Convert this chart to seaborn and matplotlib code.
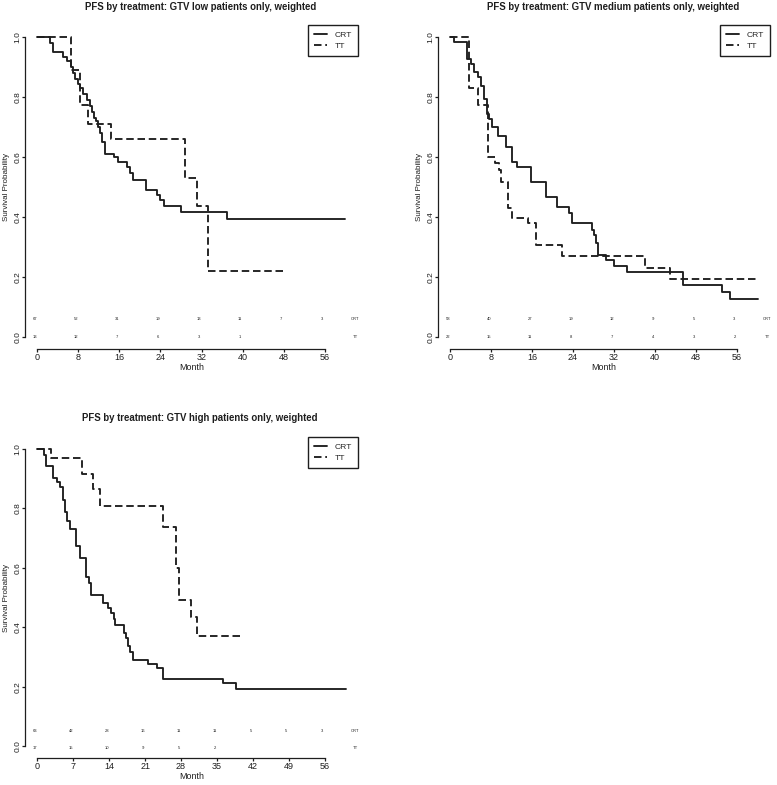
import pandas as pd
import seaborn as sns
import matplotlib.pyplot as plt

# ─── Data (Kaplan-Meier steps) ────────────────────────────────────────────────
LOW_CRT_T = [0, 2.5, 3.05, 5.0, 5.8, 6.5, 7.0, 7.4, 7.9, 8.4, 9.0, 9.6, 10.2, 10.6, 11.0,
             11.4, 11.9, 12.3, 12.7, 13.1, 14.85, 15.8, 17.45, 18.1, 18.7, 21.2, 23.3,
             23.9, 24.6, 28.1, 36.9, 60.0]
LOW_CRT_S = [1.0, 0.981, 0.95, 0.935, 0.92, 0.90, 0.88, 0.86, 0.845, 0.83, 0.81, 0.79,
             0.77, 0.75, 0.73, 0.72, 0.70, 0.68, 0.65, 0.61, 0.60, 0.584, 0.568, 0.546,
             0.523, 0.49, 0.473, 0.457, 0.437, 0.416, 0.393, 0.393]
LOW_TT_T = [0, 6.6, 8.37, 9.8, 14.3, 28.7, 31.06, 33.3, 48.0]
LOW_TT_S = [1.0, 0.89, 0.773, 0.71, 0.659, 0.529, 0.437, 0.221, 0.221]

MED_CRT_T = [0, 0.65, 3.25, 4.03, 4.68, 5.46, 5.98, 6.5, 7.15, 7.6, 8.07, 9.36, 10.86,
             12.16, 13.0, 15.73, 18.65, 20.9, 23.2, 23.8, 27.76, 28.1, 28.4, 28.9, 30.5,
             32.1, 34.6, 45.5, 53.1, 54.7, 60.1]
MED_CRT_S = [1.0, 0.984, 0.926, 0.91, 0.884, 0.866, 0.837, 0.792, 0.744, 0.728, 0.70,
             0.67, 0.634, 0.585, 0.568, 0.518, 0.468, 0.432, 0.414, 0.379, 0.357, 0.34,
             0.312, 0.273, 0.257, 0.237, 0.218, 0.173, 0.151, 0.127, 0.127]
MED_TT_T = [0, 3.7, 5.46, 7.29, 8.77, 9.5, 9.9, 11.2, 12.16, 15.2, 16.7, 21.9, 38.0,
            42.9, 60.1]
MED_TT_S = [1.0, 0.831, 0.775, 0.601, 0.58, 0.557, 0.518, 0.429, 0.398, 0.379, 0.307,
            0.27, 0.229, 0.192, 0.192]

HIGH_CRT_T = [0, 1.23, 1.75, 3.05, 3.83, 4.47, 4.93, 5.32, 5.77, 6.42, 7.59, 8.37, 9.53,
              9.98, 10.4, 12.8, 13.7, 14.3, 14.85, 15.2, 16.9, 17.3, 17.6, 18.1, 18.6,
              21.5, 23.3, 24.4, 36.1, 38.7, 60.1]
HIGH_CRT_S = [1.0, 0.98, 0.943, 0.901, 0.89, 0.873, 0.828, 0.786, 0.758, 0.73, 0.673,
              0.632, 0.57, 0.55, 0.508, 0.483, 0.464, 0.447, 0.427, 0.407, 0.379, 0.363,
              0.337, 0.318, 0.29, 0.275, 0.262, 0.227, 0.211, 0.191, 0.191]
HIGH_TT_T = [0, 2.66, 8.75, 10.8, 12.26, 24.4, 27.0, 27.6, 30.0, 31.1, 40.0]
HIGH_TT_S = [1.0, 0.969, 0.916, 0.864, 0.809, 0.738, 0.598, 0.492, 0.435, 0.371, 0.371]

# numbers at risk
LOW_TICKS = list(range(0, 57, 8))
LOW_RISK_CRT = [67, 52, 31, 19, 13, 11, 7, 3]
LOW_RISK_TT = [13, 12, 7, 6, 3, 1]
MED_TICKS = list(range(0, 57, 8))
MED_RISK_CRT = [58, 40, 27, 19, 12, 9, 5, 3]
MED_RISK_TT = [22, 15, 11, 8, 7, 4, 3, 2]
HIGH_TICKS = list(range(0, 57, 7))
HIGH_RISK_CRT = [63, 42, 28, 16, 11, 11, 5, 5, 3]
HIGH_RISK_TT = [17, 15, 10, 9, 5, 2]

TITLES = ["PFS by treatment: GTV low patients only, weighted",
          "PFS by treatment: GTV medium patients only, weighted",
          "PFS by treatment: GTV high patients only, weighted"]

# ─── Style ───────────────────────────────────────────────────────────────────
sns.set_style("ticks")
plt.rcParams['font.family'] = ['Liberation Sans', 'DejaVu Sans']
INK = "#1e1e1e"
W, H = 777, 785


def km_frame(crt_t, crt_s, tt_t, tt_s):
    return pd.DataFrame({
        "Month": crt_t + tt_t,
        "Survival": crt_s + tt_s,
        "Treatment": ["CRT"] * len(crt_t) + ["TT"] * len(tt_t),
    })


def draw_panel(ax, df, ticks, risk_crt, risk_tt, risk_rows):
    sns.lineplot(data=df, x="Month", y="Survival", style="Treatment",
                 dashes={"CRT": "", "TT": (4, 2)}, color=INK, linewidth=1.35,
                 drawstyle="steps-post", estimator=None, legend=False, ax=ax)

    ax.set_xlim(-2.4, 62.5)
    ax.set_ylim(-0.04, 1.04)
    sns.despine(ax=ax)
    ax.spines["left"].set_bounds(0, 1)
    ax.spines["bottom"].set_bounds(0, 56)
    for s in ("left", "bottom"):
        ax.spines[s].set_linewidth(0.9)
        ax.spines[s].set_color(INK)

    ax.set_xticks(ticks)
    ax.set_xticklabels([str(t) for t in ticks], fontsize=6.5, color=INK)
    yt = [0, 0.2, 0.4, 0.6, 0.8, 1.0]
    ax.set_yticks(yt)
    ax.set_yticklabels([f"{v:.1f}" for v in yt], fontsize=6.0, color=INK,
                       rotation=90, va="center")
    ax.tick_params(axis="both", length=2.2, width=0.9, color=INK)
    ax.tick_params(axis="x", pad=1.0)
    ax.tick_params(axis="y", pad=0.3)

    ax.set_xlabel("Month", fontsize=6.4, color=INK)
    ax.xaxis.set_label_coords(0.5, -0.043)
    ax.set_ylabel("Survival Probability", fontsize=5.8, color=INK)
    ax.yaxis.set_label_coords(-0.045, 0.5)

    # numbers-at-risk table inside the plot, printed slightly left of each tick
    for row, (vals, lab) in enumerate([(risk_crt, "CRT"), (risk_tt, "TT")]):
        y = risk_rows[row]
        for t, n in zip(ticks, vals):
            ax.text(t - 0.45, y, str(n), fontsize=3.0, ha="center", va="center",
                    color=INK)
        ax.text(62.0, y, lab, fontsize=3.0, ha="center", va="center", color=INK)

    leg = ax.legend(handles=ax.lines[:2], labels=["CRT", "TT"], loc="upper right",
                    borderaxespad=0, fancybox=False, edgecolor=INK, framealpha=1,
                    fontsize=6.1, handlelength=1.6, handletextpad=0.8, borderpad=0.75,
                    labelspacing=0.3)
    leg.get_frame().set_linewidth(1.0)


fig = plt.figure(figsize=(W / 100, H / 100), dpi=100)
ax1 = fig.add_axes([25 / W, 1 - 349 / H, 333 / W, 324 / H])
ax2 = fig.add_axes([438 / W, 1 - 349 / H, 332 / W, 324 / H])
ax3 = fig.add_axes([25 / W, 1 - 758 / H, 333 / W, 321 / H])

draw_panel(ax1, km_frame(LOW_CRT_T, LOW_CRT_S, LOW_TT_T, LOW_TT_S),
           LOW_TICKS, LOW_RISK_CRT, LOW_RISK_TT, (0.06, 0.0))
draw_panel(ax2, km_frame(MED_CRT_T, MED_CRT_S, MED_TT_T, MED_TT_S),
           MED_TICKS, MED_RISK_CRT, MED_RISK_TT, (0.06, 0.0))
draw_panel(ax3, km_frame(HIGH_CRT_T, HIGH_CRT_S, HIGH_TT_T, HIGH_TT_S),
           HIGH_TICKS, HIGH_RISK_CRT, HIGH_RISK_TT, (0.05, -0.005))

for (x, y), title in zip([(201, 7), (613, 7), (200, 418)], TITLES):
    fig.text(x / W, 1 - y / H, title, fontsize=6.9, fontweight="bold",
             ha="center", va="center", color=INK)

fig.savefig("out.png", dpi=100, facecolor="white")
